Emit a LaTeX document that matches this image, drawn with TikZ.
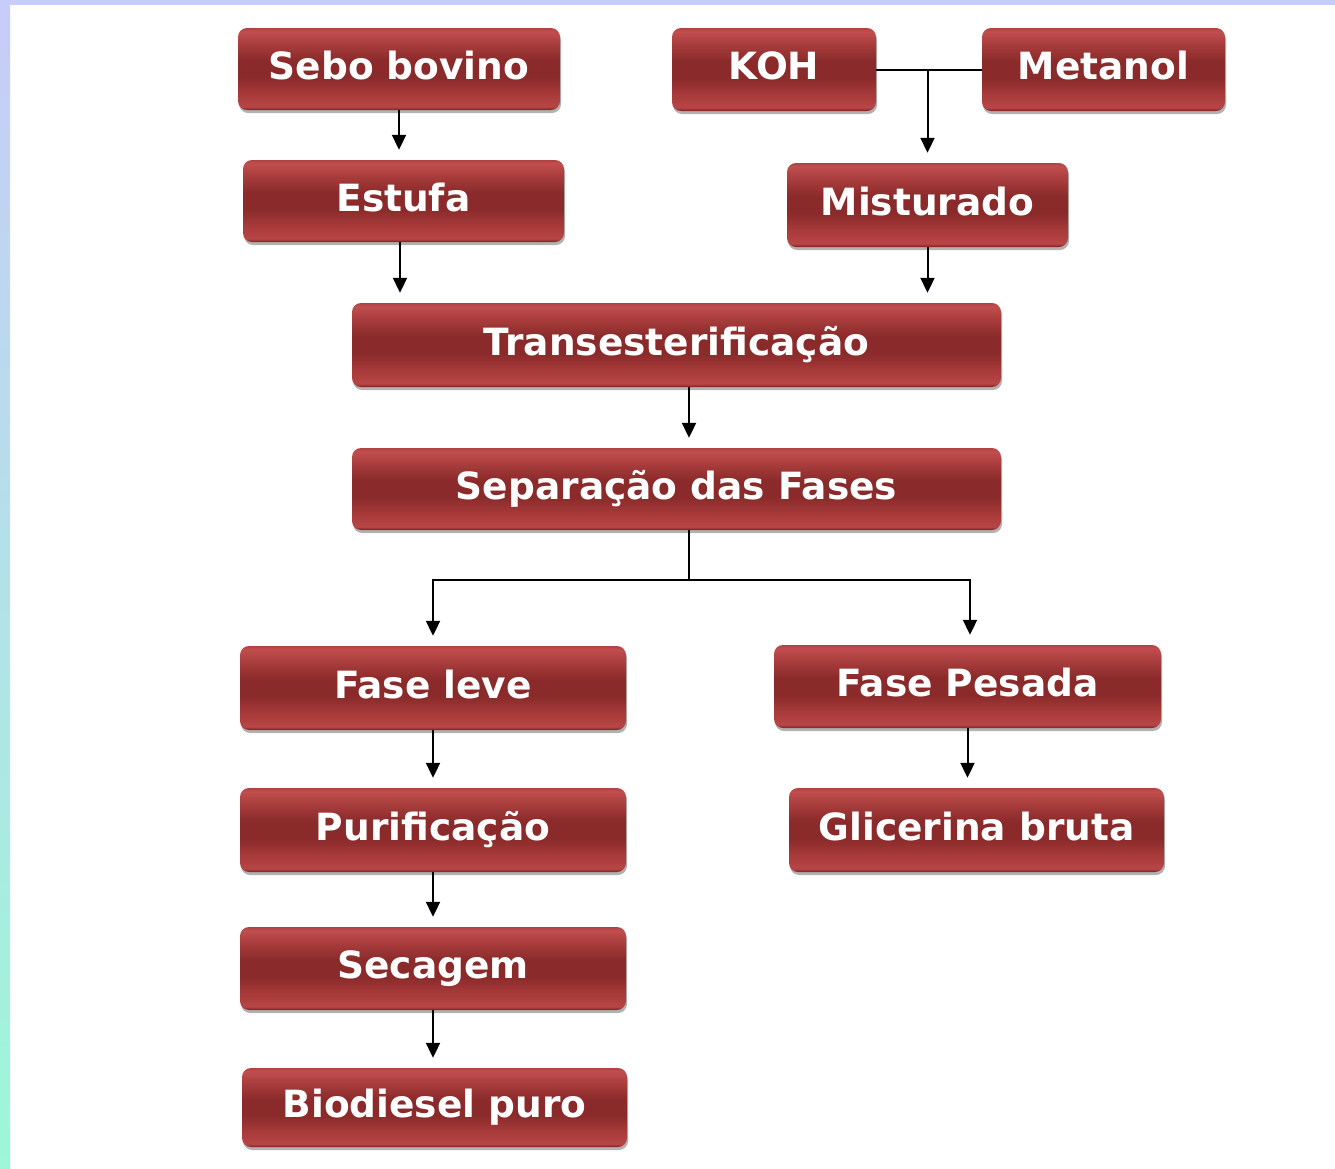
\documentclass[tikz,border=0pt]{standalone}
\usepackage{fontspec}
\newfontfamily\boxfont{DejaVu Sans}
\usetikzlibrary{arrows.meta,shadows}
\definecolor{lav}{HTML}{C8CCF8}
\definecolor{mint}{HTML}{9DF7D8}
\definecolor{bA}{HTML}{7A2020}
\definecolor{bB}{HTML}{B84646}
\definecolor{bC}{HTML}{A83A3A}
\definecolor{bD}{HTML}{8A2A2A}
\definecolor{bE}{HTML}{A83C3C}
\definecolor{bF}{HTML}{C24E4E}
\definecolor{bG}{HTML}{B04242}
\pgfdeclareverticalshading{boxshade}{100bp}{color(0bp)=(bA); color(25bp)=(bA); color(27bp)=(bB); color(35bp)=(bC); color(45bp)=(bD); color(55bp)=(bD); color(65bp)=(bE); color(73bp)=(bF); color(75bp)=(bG); color(100bp)=(bG)}
\tikzset{
  box/.style={rounded corners=9pt, shading=boxshade, draw=none,
    text=white, font=\boxfont\bfseries\fontsize{37.5}{42}\selectfont,
    inner sep=0pt, align=center, text height=28pt, text depth=8pt,
    drop shadow={shadow xshift=1pt, shadow yshift=-3pt, opacity=0.3, fill=black}},
  conn/.style={line width=2pt, draw=black},
  arr/.style={conn, -{Triangle[length=15pt,width=14pt]}, shorten >=10pt}
}
\begin{document}
\begin{tikzpicture}[x=1pt,y=-1pt]
\useasboundingbox (0,0) rectangle (1335,1168);
\fill[white] (0,0) rectangle (1335,1168);
\shade[top color=lav, bottom color=mint] (0,0) rectangle (10,1168);
\fill[lav] (0,0) rectangle (1335,5);

\node[box, minimum width=322pt, minimum height=82pt] (sebo) at (399,69) {Sebo bovino};
\node[box, minimum width=321pt, minimum height=82pt] (estufa) at (403.5,201) {Estufa};
\node[box, minimum width=204pt, minimum height=83pt] (koh) at (774,69.5) {KOH};
\node[box, minimum width=243pt, minimum height=83pt] (metanol) at (1103.5,69.5) {Metanol};
\node[box, minimum width=281pt, minimum height=84pt] (mist) at (927.5,205) {Misturado};
\node[box, minimum width=649pt, minimum height=84pt] (trans) at (676.5,345) {Transesterificação};
\node[box, minimum width=649pt, minimum height=82pt] (sep) at (676.5,489) {Separação das Fases};
\node[box, minimum width=386pt, minimum height=84pt] (leve) at (433,688) {Fase leve};
\node[box, minimum width=387pt, minimum height=83pt] (pesada) at (967.5,686.5) {Fase Pesada};
\node[box, minimum width=386pt, minimum height=84pt] (purif) at (433,830) {Purificação};
\node[box, minimum width=375pt, minimum height=84pt] (glic) at (976.5,830) {Glicerina bruta};
\node[box, minimum width=386pt, minimum height=83pt] (secagem) at (433,968.5) {Secagem};
\node[box, minimum width=385pt, minimum height=79pt] (bio) at (434.5,1107.5) {Biodiesel puro};

\draw[arr] (sebo.south) -- (sebo.south |- estufa.north);
\draw[arr] ([xshift=-3.5pt]estufa.south) -- ([xshift=-3.5pt]estufa.south |- trans.north);
\draw[conn] (koh.east) -- (metanol.west);
\coordinate (j) at (koh.east -| mist.north);
\draw[arr] (j) -- (mist.north);
\draw[arr] (mist.south) -- (mist.south |- trans.north);
\draw[arr] ([xshift=12.5pt]trans.south) -- ([xshift=12.5pt]sep.north);
\coordinate (br) at ([xshift=12.5pt,yshift=-50pt]sep.south);
\draw[conn] ([xshift=12.5pt]sep.south) -- (br);
\draw[arr] (br) -| (leve.north);
\draw[arr] (br) -| ([xshift=2.5pt]pesada.north);
\draw[arr] (leve.south) -- (purif.north);
\draw[arr] (purif.south) -- (secagem.north);
\draw[arr] (secagem.south) -- (secagem.south |- bio.north);
\draw[arr] (pesada.south) -- (pesada.south |- glic.north);
\end{tikzpicture}
\end{document}
